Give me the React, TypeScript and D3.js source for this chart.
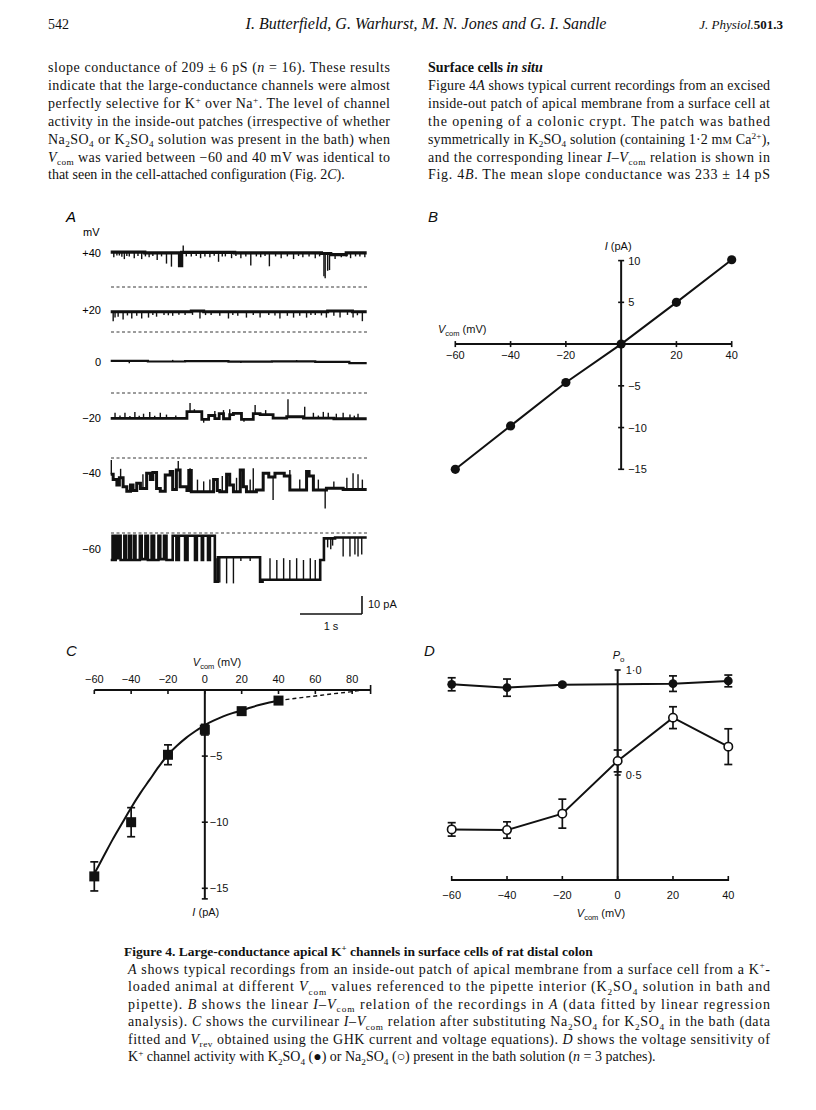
import React from 'react';
import * as d3 from 'd3';

// ---------- page text ----------
const headerPage = '542';
const headerAuthors = 'I. Butterfield, G. Warhurst, M. N. Jones and G. I. Sandle';
const leftColumn = [
  'slope conductance of 209 ± 6 pS (*n* = 16). These results',
  'indicate that the large-conductance channels were almost',
  'perfectly selective for K^{+} over Na^{+}. The level of channel',
  'activity in the inside-out patches (irrespective of whether',
  'Na_{2}SO_{4} or K_{2}SO_{4} solution was present in the bath) when',
  '*V*_{com} was varied between −60 and 40 mV was identical to',
  'that seen in the cell-attached configuration (Fig. 2*C*).',
];
const rightHeading = 'Surface cells *in situ*';
const rightColumn = [
  'Figure 4*A* shows typical current recordings from an excised',
  'inside-out patch of apical membrane from a surface cell at',
  'the opening of a colonic crypt. The patch was bathed',
  'symmetrically in K_{2}SO_{4} solution (containing 1·2 m#{M} Ca^{2+}),',
  'and the corresponding linear *I*–*V*_{com} relation is shown in',
  'Fig. 4*B*. The mean slope conductance was 233 ± 14 pS',
];
const captionTitle = 'Figure 4. Large-conductance apical K^{+} channels in surface cells of rat distal colon';
const captionLines = [
  '*A* shows typical recordings from an inside-out patch of apical membrane from a surface cell from a K^{+}-',
  'loaded animal at different *V*_{com} values referenced to the pipette interior (K_{2}SO_{4} solution in bath and',
  'pipette). *B* shows the linear *I*–*V*_{com} relation of the recordings in *A* (data fitted by linear regression',
  'analysis). *C* shows the curvilinear *I*–*V*_{com} relation after substituting Na_{2}SO_{4} for K_{2}SO_{4} in the bath (data',
  'fitted and *V*_{rev} obtained using the GHK current and voltage equations). *D* shows the voltage sensitivity of',
  'K^{+} channel activity with K_{2}SO_{4} (●) or Na_{2}SO_{4} (○) present in the bath solution (*n* = 3 patches).',
];

// ---------- A: single-channel records, [time s, current pA] ----------
const traceLabels = ['+40', '+20', '0', '−20', '−40', '−60'];
const traceDuration = 4.13;

const levels40 = [[0, 19.4], [0.55, 19.0], [1.11, 11.8], [1.145, 19.2], [2.0, 19.0], [3.4, 18.6], [3.55, 18.0], [3.8, 19.0]];
const spikes40 = [[0.05, 16.5], [0.1, 17.5], [0.14, 17.5], [0.18, 16.8], [0.22, 15.5], [0.26, 17.2], [0.3, 17], [0.38, 16], [0.44, 17.2], [0.5, 15.5], [0.56, 17], [0.62, 16.5], [0.68, 17.2], [0.75, 15], [0.82, 17], [0.9, 13], [0.98, 11.3], [1.17, 23], [1.22, 17], [1.3, 17], [1.38, 17.2], [1.45, 16], [1.52, 17], [1.6, 16.5], [1.67, 17.3], [1.74, 14], [1.8, 17], [1.85, 17], [1.95, 16], [2.02, 17.2], [2.1, 16], [2.18, 17], [2.26, 12], [2.35, 17], [2.42, 16.5], [2.49, 17.2], [2.56, 11.5], [2.66, 17], [2.75, 16], [2.85, 17], [2.95, 15.5], [3.03, 17.2], [3.1, 16.5], [3.2, 17], [3.3, 16], [3.37, 17], [3.44, 6], [3.46, 4.8], [3.5, 9], [3.53, 9.4], [3.62, 15.5], [3.72, 16.5], [3.8, 17], [3.87, 16], [3.95, 17], [4.02, 17], [4.1, 16.5]];

const levels20 = [[0, 11.2], [1.3, 11.7], [1.5, 11.3], [3.5, 11.6], [3.9, 11.3]];
const spikes20 = [[0.04, 6], [0.07, 8], [0.12, 8.5], [0.2, 7], [0.27, 9.2], [0.34, 7.5], [0.42, 9], [0.5, 7.5], [0.61, 8], [0.68, 9.5], [0.74, 8.5], [0.86, 9.5], [0.93, 9.3], [1.0, 9], [1.1, 9.6], [1.2, 9.5], [1.32, 9.5], [1.44, 7.5], [1.53, 9.4], [1.62, 9.5], [1.76, 9], [1.9, 7.5], [1.97, 9.4], [2.05, 9], [2.19, 8], [2.3, 9.4], [2.41, 8], [2.55, 9.5], [2.65, 9.2], [2.73, 7.5], [2.85, 9], [2.95, 8], [3.05, 9], [3.16, 8], [3.23, 9.4], [3.3, 9.5], [3.4, 9.2], [3.48, 8], [3.6, 9], [3.7, 8], [3.82, 9.5], [3.91, 8], [3.98, 9.3], [4.06, 6]];

const levels0 = [[0, 0.3], [0.6, 0], [1.2, 0.2], [1.9, -0.1], [2.6, 0.1], [3.3, -0.2], [3.85, -0.9]];
const spikes0 = [[0.3, -1], [1.0, 0.9], [2.1, -0.8], [3.0, 0.8]];

const levelsM20 = [[0, -14.1], [1.23, -10.4], [1.47, -14.6], [1.58, -12.5], [1.68, -14.2], [1.75, -11.5], [1.82, -14.3], [1.92, -12], [1.98, -11.3], [2.11, -14.6], [2.3, -11.5], [2.41, -12], [2.62, -14], [2.84, -13.2], [3.11, -14], [3.6, -14.3]];
const spikesM20 = [[0.07, -11], [0.15, -12.5], [0.23, -11], [0.31, -12.8], [0.39, -10.5], [0.46, -12.6], [0.53, -11.5], [0.63, -10.5], [0.71, -12.6], [0.8, -11], [0.9, -12], [1.05, -12.5], [1.28, -5.6], [1.35, -9], [1.5, -16.5], [1.68, -10], [1.82, -9.5], [1.92, -9], [2.15, -16], [2.33, -6.7], [2.5, -9.5], [2.86, -3.5], [3.13, -7.6], [3.27, -11], [3.35, -12.5], [3.43, -10.5], [3.51, -11], [3.64, -11.5], [3.75, -11], [3.86, -12], [3.93, -12.6], [3.99, -11.5]];

const levelsM40 = [[0, -9], [0.04, -12], [0.1, -15], [0.14, -11], [0.2, -16], [0.26, -18.5], [0.32, -15], [0.36, -18], [0.42, -14], [0.48, -17], [0.58, -8.5], [0.64, -12], [0.68, -8], [0.74, -17], [0.8, -18.5], [0.88, -9.5], [0.96, -7.5], [1.0, -17.5], [1.06, -6.7], [1.12, -16], [1.23, -18], [1.26, -7], [1.3, -18.7], [1.66, -12], [1.72, -18], [1.76, -18.7], [1.87, -9], [1.92, -15], [1.98, -18.7], [2.09, -6.7], [2.14, -16], [2.19, -18.7], [2.35, -17.8], [2.46, -8.5], [2.55, -10.5], [2.65, -8.5], [2.8, -10], [2.89, -17.8], [3.16, -7.5], [3.2, -10], [3.27, -17.8], [3.48, -16.8], [3.75, -17.5]];
const spikesM40 = [[0.01, -1.1], [0.16, -6], [0.52, -9], [1.09, -1.6], [1.28, -5.7], [1.4, -12], [1.5, -13], [1.6, -12], [1.8, -10], [2.03, -11], [2.25, -12], [2.3, -5.7], [2.62, -23.3], [2.89, -6.7], [3.05, -12], [3.35, -12], [3.46, -28], [3.6, -13], [3.81, -11], [3.91, -8.5], [3.99, -9], [4.06, -12]];

const levelsM60 = [[0, -15], [0.03, -1.5], [0.05, -15], [0.08, -1.5], [0.1, -14], [0.14, -1.5], [0.16, -15], [0.22, -1.5], [0.25, -15], [0.3, -1.5], [0.33, -15], [0.38, -1.5], [0.4, -15], [0.47, -1.5], [0.5, -14.5], [0.56, -1.5], [0.6, -15], [0.66, -1.5], [0.7, -15], [0.77, -1.5], [0.8, -14.5], [0.86, -1.5], [0.9, -15], [1.0, -1.5], [1.06, -15], [1.1, -1.5], [1.2, -15], [1.24, -1.5], [1.36, -15], [1.39, -1.5], [1.47, -15], [1.49, -1.5], [1.57, -15], [1.6, -1.5], [1.68, -27], [1.73, -13.5], [2.41, -27], [2.45, -26], [3.38, -15], [3.44, -3], [3.62, -2.5]];
const spikesM60 = [[1.7, -14], [1.76, -27.5], [1.87, -28], [1.98, -28], [2.1, -15.5], [2.25, -15.5], [2.57, -14], [2.68, -15], [2.79, -14], [2.89, -15], [3.0, -14], [3.11, -15], [3.22, -14], [3.3, -15], [3.5, -8], [3.55, -9], [3.58, -7], [3.75, -13], [3.86, -13], [3.94, -12], [3.99, -13], [4.05, -12]];

const traceLevels = [levels40, levels20, levels0, levelsM20, levelsM40, levelsM60];
const traceSpikes = [spikes40, spikes20, spikes0, spikesM20, spikesM40, spikesM60];

// ---------- B: linear I-V ----------
const bVoltage = [-60, -40, -20, 0, 20, 40];
const bCurrent = [-15, -9.8, -4.6, 0, 5, 10.1];
const bTicksX = [-60, -40, -20, 0, 20, 40];
const bTickLabelsX = ['−60', '−40', '−20', '', '20', '40'];
const bTicksY = [10, 5, -5, -10, -15];
const bTickLabelsY = ['10', '5', '−5', '−10', '−15'];

// ---------- C: curvilinear I-V (Na2SO4 bath) ----------
const cVoltage = [-60, -40, -20, 0, 20, 40];
const cCurrent = [-14.1, -10.0, -4.9, -3.0, -1.6, -0.8];
const cError = [1.1, 1.1, 0.75, 0.4, 0, 0];
const cFitV = [-60, -55, -50, -45, -40, -35, -30, -25, -20, -15, -10, -5, 0, 5, 10, 15, 20, 25, 30, 35, 40];
const cFitI = [-13.9, -12.6, -11.3, -10.1, -8.9, -7.8, -6.8, -5.8, -4.9, -4.2, -3.6, -3.1, -2.65, -2.3, -2.0, -1.75, -1.55, -1.32, -1.12, -0.95, -0.8];
const cExtrapV = [40, 50, 60, 70, 80, 85];
const cExtrapI = [-0.8, -0.62, -0.45, -0.28, -0.12, 0];
const cTicksX = [-60, -40, -20, 0, 20, 40, 60, 80];
const cTickLabelsX = ['−60', '−40', '−20', '0', '20', '40', '60', '80'];
const cTicksY = [-5, -10, -15];
const cTickLabelsY = ['−5', '−10', '−15'];

// ---------- D: open probability ----------
const dKVoltage = [-60, -40, -20, 20, 40];
const dK = [0.932, 0.916, 0.93, 0.935, 0.948];
const dKErr = [0.031, 0.041, 0.008, 0.037, 0.028];
const dNaVoltage = [-60, -40, -20, 0, 20, 40];
const dNa = [0.241, 0.238, 0.316, 0.567, 0.773, 0.635];
const dNaErr = [0.032, 0.039, 0.069, 0.052, 0.052, 0.085];
const dTicksX = [-60, -40, -20, 0, 20, 40];
const dTickLabelsX = ['−60', '−40', '−20', '0', '20', '40'];
const dTicksY = [1, 0.5];
const dTickLabelsY = ['1·0', '0·5'];

const SERIF = "'Liberation Serif', 'DejaVu Serif', serif";
const SANS = "'Liberation Sans', Arial, sans-serif";

type Seg = { s: string; it?: boolean; sub?: boolean; sup?: boolean; sc?: boolean };

function parse(str: string): Seg[] {
  const out: Seg[] = [];
  const re = /\*([^*]+)\*|_\{([^}]+)\}|\^\{([^}]+)\}|#\{([^}]+)\}/g;
  let last = 0;
  let m: RegExpExecArray | null;
  while ((m = re.exec(str))) {
    if (m.index > last) out.push({ s: str.slice(last, m.index) });
    if (m[1] !== undefined) out.push({ s: m[1], it: true });
    else if (m[2] !== undefined) out.push({ s: m[2], sub: true });
    else if (m[3] !== undefined) out.push({ s: m[3], sup: true });
    else out.push({ s: m[4], sc: true });
    last = re.lastIndex;
  }
  if (last < str.length) out.push({ s: str.slice(last) });
  return out;
}

function Rich(props: any) {
  const { x, y, str, size, family = SERIF, width, anchor, bold, italic } = props;
  let shift = 0;
  const spans = parse(str).map((g, i) => {
    const target = g.sub ? size * 0.25 : g.sup ? -size * 0.36 : 0;
    const dy = target - shift;
    shift = target;
    const small = g.sub || g.sup;
    return (
      <tspan
        key={i}
        dy={dy !== 0 ? dy : undefined}
        fontStyle={g.it ? 'italic' : undefined}
        fontSize={small ? size * 0.66 : g.sc ? size * 0.75 : undefined}
      >
        {g.s}
      </tspan>
    );
  });
  return (
    <text
      x={x}
      y={y}
      fontSize={size}
      fontFamily={family}
      fontWeight={bold ? 'bold' : undefined}
      fontStyle={italic ? 'italic' : undefined}
      textAnchor={anchor}
      textLength={width}
      lengthAdjust={width ? 'spacing' : undefined}
      fill="#111"
    >
      {spans}
    </text>
  );
}

// V_com (mV) axis title
function VcomLabel({ x, y, anchor }: any) {
  return (
    <text x={x} y={y} fontSize={11} fontFamily={SANS} textAnchor={anchor} fill="#111">
      <tspan fontStyle="italic">V</tspan>
      <tspan dy={2.5} fontSize={7.5}>com</tspan>
      <tspan dy={-2.5}>{'  (mV)'}</tspan>
    </text>
  );
}

function PanelA() {
  const xT = d3.scaleLinear().domain([0, traceDuration]).range([110.7, 366.7]);
  const zeroY = [287, 332, 361.5, 393, 458, 533];
  const labelY = [257, 314, 366, 422, 477, 553];
  const hasDashed = [true, true, false, true, true, true];
  const widths = [3.2, 3.0, 2.2, 2.8, 3.0, 2.6];
  const step = d3.line<number[]>().curve(d3.curveStepAfter);

  return (
    <g>
      <text x={66} y={222} fontSize={15} fontFamily={SANS} fontStyle="italic">A</text>
      <text x={83} y={236} fontSize={11} fontFamily={SANS}>mV</text>
      {traceLabels.map((lab, i) => {
        const yS = d3.scaleLinear().domain([0, 10]).range([zeroY[i], zeroY[i] - 18]);
        const lv = traceLevels[i];
        const pts = lv.map((d) => [xT(d[0]), yS(d[1])]);
        pts.push([xT(traceDuration), yS(lv[lv.length - 1][1])]);
        const levelAt = (t: number) => {
          let v = lv[0][1];
          for (const d of lv) if (d[0] <= t) v = d[1];
          return v;
        };
        return (
          <g key={lab}>
            <text x={101} y={labelY[i]} fontSize={11} fontFamily={SANS} textAnchor="end">{lab}</text>
            {hasDashed[i] && (
              <line x1={111} x2={368} y1={zeroY[i]} y2={zeroY[i]} stroke="#222" strokeWidth={0.9} strokeDasharray="3,2.5" />
            )}
            <path d={step(pts as any) || ''} fill="none" stroke="#111" strokeWidth={widths[i]} strokeLinejoin="miter" />
            {traceSpikes[i].map((s, k) => (
              <line key={k} x1={xT(s[0])} x2={xT(s[0])} y1={yS(levelAt(s[0]))} y2={yS(s[1])} stroke="#111" strokeWidth={1.4} />
            ))}
          </g>
        );
      })}
      {/* scale bars: 10 pA and 1 s */}
      {(() => {
        const yS = d3.scaleLinear().domain([0, 10]).range([614, 596]);
        const x0 = 300;
        const x1 = x0 + (xT(1) - xT(0));
        return (
          <g stroke="#111" strokeWidth={1.6}>
            <line x1={x0} x2={x1} y1={yS(0)} y2={yS(0)} />
            <line x1={x1} x2={x1} y1={yS(0)} y2={yS(10)} />
            <text x={368} y={608} fontSize={11} fontFamily={SANS} stroke="none" fill="#111">10 pA</text>
            <text x={(x0 + x1) / 2} y={630} fontSize={11} fontFamily={SANS} stroke="none" fill="#111" textAnchor="middle">1 s</text>
          </g>
        );
      })()}
    </g>
  );
}

function PanelB() {
  const x = d3.scaleLinear().domain([-60, 40]).range([455.3, 731.7]);
  const y = d3.scaleLinear().domain([-15, 10]).range([469.3, 260.6]);
  const line = d3.line<number>().x((v) => x(v)).y((_, i) => y(bCurrent[i]));
  return (
    <g fontFamily={SANS} fontSize={11} fill="#111">
      <text x={428} y={222} fontSize={15} fontStyle="italic">B</text>
      <line x1={x(-60)} x2={x(40)} y1={y(0)} y2={y(0)} stroke="#111" strokeWidth={2} />
      <line x1={x(0)} x2={x(0)} y1={y(-15)} y2={y(10)} stroke="#111" strokeWidth={2} />
      {bTicksX.map((t, i) => (
        <g key={t}>
          <line x1={x(t)} x2={x(t)} y1={y(0) - 3} y2={y(0) + 3} stroke="#111" strokeWidth={1.6} />
          <text x={x(t)} y={y(0) + 15} textAnchor="middle">{bTickLabelsX[i]}</text>
        </g>
      ))}
      {bTicksY.map((t, i) => (
        <g key={t}>
          <line x1={x(0) - 3} x2={x(0) + 3} y1={y(t)} y2={y(t)} stroke="#111" strokeWidth={1.6} />
          <text x={x(0) + 7} y={y(t) + 4}>{bTickLabelsY[i]}</text>
        </g>
      ))}
      <text x={x(0) - 3} y={250} textAnchor="middle">
        <tspan fontStyle="italic">I</tspan> (pA)
      </text>
      <VcomLabel x={438} y={333} />
      <path d={line(bVoltage) || ''} fill="none" stroke="#111" strokeWidth={2} />
      {bVoltage.map((v, i) => (
        <circle key={v} cx={x(v)} cy={y(bCurrent[i])} r={4.6} fill="#111" />
      ))}
    </g>
  );
}

function PanelC() {
  const x = d3.scaleLinear().domain([-60, 90]).range([94.3, 370.6]);
  const y = d3.scaleLinear().domain([0, -15]).range([690, 888.3]);
  const fit = d3.line<number>().x((v) => x(v)).y((_, i) => y(cFitI[i])).curve(d3.curveMonotoneX);
  const ext = d3.line<number>().x((v) => x(v)).y((_, i) => y(cExtrapI[i])).curve(d3.curveMonotoneX);
  return (
    <g fontFamily={SANS} fontSize={11} fill="#111">
      <text x={66} y={656} fontSize={15} fontStyle="italic">C</text>
      <VcomLabel x={217} y={666} anchor="middle" />
      <line x1={x(-60)} x2={x(90)} y1={y(0)} y2={y(0)} stroke="#111" strokeWidth={2} />
      <line x1={x(90)} x2={x(90)} y1={y(0) - 5} y2={y(0) + 4} stroke="#111" strokeWidth={1.6} />
      {cTicksX.map((t, i) => (
        <g key={t}>
          <line x1={x(t)} x2={x(t)} y1={y(0)} y2={y(0) + 4} stroke="#111" strokeWidth={1.6} />
          <text x={x(t)} y={y(0) - 7} textAnchor="middle">{cTickLabelsX[i]}</text>
        </g>
      ))}
      <line x1={x(0)} x2={x(0)} y1={y(0)} y2={y(-15.8)} stroke="#111" strokeWidth={2} />
      <line x1={x(0) - 3} x2={x(0) + 3} y1={y(-15.8)} y2={y(-15.8)} stroke="#111" strokeWidth={1.6} />
      {cTicksY.map((t, i) => (
        <g key={t}>
          <line x1={x(0) - 3} x2={x(0) + 3} y1={y(t)} y2={y(t)} stroke="#111" strokeWidth={1.6} />
          <text x={x(0) + 5} y={y(t) + 4}>{cTickLabelsY[i]}</text>
        </g>
      ))}
      <text x={x(0) + 1} y={916} textAnchor="middle">
        <tspan fontStyle="italic">I</tspan> (pA)
      </text>
      <path d={fit(cFitV) || ''} fill="none" stroke="#111" strokeWidth={2} />
      <path d={ext(cExtrapV) || ''} fill="none" stroke="#111" strokeWidth={1.4} strokeDasharray="4,3" />
      {cVoltage.map((v, i) => (
        <g key={v}>
          {cError[i] > 0 && (
            <g stroke="#111" strokeWidth={1.7}>
              <line x1={x(v)} x2={x(v)} y1={y(cCurrent[i] - cError[i])} y2={y(cCurrent[i] + cError[i])} />
              <line x1={x(v) - 4} x2={x(v) + 4} y1={y(cCurrent[i] - cError[i])} y2={y(cCurrent[i] - cError[i])} />
              <line x1={x(v) - 4} x2={x(v) + 4} y1={y(cCurrent[i] + cError[i])} y2={y(cCurrent[i] + cError[i])} />
            </g>
          )}
          <rect x={x(v) - 5} y={y(cCurrent[i]) - 5} width={10} height={10} fill="#111" />
        </g>
      ))}
    </g>
  );
}

function PanelD() {
  const x = d3.scaleLinear().domain([-60, 40]).range([451.7, 728.3]);
  const y = d3.scaleLinear().domain([0, 1]).range([880, 670]);
  const kLine = d3.line<number>().x((_, i) => x(dKVoltage[i])).y((d) => y(d));
  const naLine = d3.line<number>().x((_, i) => x(dNaVoltage[i])).y((d) => y(d));
  const errBar = (v: number, m: number, e: number, key: string) => (
    <g key={key} stroke="#111" strokeWidth={1.7}>
      <line x1={x(v)} x2={x(v)} y1={y(m - e)} y2={y(m + e)} />
      <line x1={x(v) - 4} x2={x(v) + 4} y1={y(m - e)} y2={y(m - e)} />
      <line x1={x(v) - 4} x2={x(v) + 4} y1={y(m + e)} y2={y(m + e)} />
    </g>
  );
  return (
    <g fontFamily={SANS} fontSize={11} fill="#111">
      <text x={424} y={656} fontSize={15} fontStyle="italic">D</text>
      <line x1={x(-60)} x2={x(40)} y1={y(0)} y2={y(0)} stroke="#111" strokeWidth={2} />
      {dTicksX.map((t, i) => (
        <g key={t}>
          <line x1={x(t)} x2={x(t)} y1={y(0) - 4} y2={y(0) + 1} stroke="#111" strokeWidth={1.6} />
          <text x={x(t)} y={899} textAnchor="middle">{dTickLabelsX[i]}</text>
        </g>
      ))}
      <line x1={x(0)} x2={x(0)} y1={y(0)} y2={y(1)} stroke="#111" strokeWidth={2} />
      {dTicksY.map((t, i) => (
        <g key={t}>
          <line x1={x(0) - 3} x2={x(0) + 3} y1={y(t)} y2={y(t)} stroke="#111" strokeWidth={1.6} />
          <text x={x(0) + 8} y={y(t) + 4}>{dTickLabelsY[i]}</text>
        </g>
      ))}
      <text x={x(0) - 5} y={659}>
        <tspan fontStyle="italic">P</tspan>
        <tspan dy={2.5} fontSize={8}>o</tspan>
      </text>
      <VcomLabel x={601} y={917} anchor="middle" />
      <path d={kLine(dK) || ''} fill="none" stroke="#111" strokeWidth={2} />
      <path d={naLine(dNa) || ''} fill="none" stroke="#111" strokeWidth={2} />
      {dKVoltage.map((v, i) => (dKErr[i] > 0 ? errBar(v, dK[i], dKErr[i], 'k' + v) : null))}
      {dNaVoltage.map((v, i) => errBar(v, dNa[i], dNaErr[i], 'n' + v))}
      {dKVoltage.map((v, i) => (
        <circle key={'kc' + v} cx={x(v)} cy={y(dK[i])} r={4.4} fill="#111" />
      ))}
      {dNaVoltage.map((v, i) => (
        <circle key={'nc' + v} cx={x(v)} cy={y(dNa[i])} r={4.2} fill="#fff" stroke="#111" strokeWidth={1.6} />
      ))}
    </g>
  );
}

export default function App() {
  const lineGap = 17.9;
  const topY = 72;
  const capTop = 956;
  const capGap = 17.5;
  return (
    <svg width={816} height={1110} style={{ position: 'absolute', left: 0, top: 0, background: '#fff' }}>
      <rect width={816} height={1110} fill="#fff" />
      {/* running header */}
      <text x={48} y={29} fontSize={14} fontFamily={SERIF} fill="#111">{headerPage}</text>
      <text x={426} y={29} fontSize={16} fontFamily={SERIF} fontStyle="italic" textAnchor="middle" fill="#111">
        {headerAuthors}
      </text>
      <text x={783} y={29} fontSize={13} fontFamily={SERIF} textAnchor="end" fill="#111">
        <tspan fontStyle="italic">J. Physiol.</tspan>
        <tspan fontWeight="bold">501.3</tspan>
      </text>

      {/* body text */}
      {leftColumn.map((l, i) => (
        <Rich key={'l' + i} x={48} y={topY + i * lineGap} str={l} size={14} width={i < leftColumn.length - 1 ? 342 : undefined} />
      ))}
      <Rich x={428} y={topY} str={rightHeading} size={14} bold />
      {rightColumn.map((l, i) => (
        <Rich key={'r' + i} x={428} y={topY + (i + 1) * lineGap} str={l} size={14} width={342} />
      ))}

      <PanelA />
      <PanelB />
      <PanelC />
      <PanelD />

      {/* caption */}
      <Rich x={124} y={capTop} str={captionTitle} size={13.5} bold />
      {captionLines.map((l, i) => (
        <Rich key={'c' + i} x={128} y={capTop + (i + 1) * capGap} str={l} size={14} width={i < captionLines.length - 1 ? 642 : undefined} />
      ))}
    </svg>
  );
}
